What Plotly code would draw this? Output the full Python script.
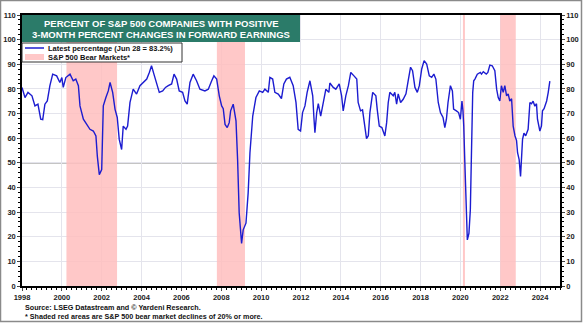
import plotly.graph_objects as go

# ---------------- data ----------------
dates = [
    1998.0, 1998.15, 1998.3, 1998.5, 1998.65, 1998.8, 1998.94, 1999.04, 1999.15, 1999.27,
    1999.4, 1999.54, 1999.74, 1999.9, 2000.0, 2000.07, 2000.2, 2000.41, 2000.57, 2000.7,
    2000.83, 2000.91, 2001.08, 2001.25, 2001.41, 2001.58, 2001.71, 2001.78, 2001.88, 2002.0,
    2002.08, 2002.21, 2002.33, 2002.42, 2002.55, 2002.67, 2002.78, 2002.88, 2003.0, 2003.08,
    2003.22, 2003.3, 2003.42, 2003.58, 2003.75, 2003.92, 2004.08, 2004.26, 2004.39, 2004.5,
    2004.62, 2004.76, 2004.89, 2005.06, 2005.2, 2005.34, 2005.51, 2005.63, 2005.76, 2005.89,
    2006.06, 2006.18, 2006.29, 2006.43, 2006.59, 2006.76, 2006.93, 2007.18, 2007.35, 2007.52,
    2007.63, 2007.77, 2007.9, 2008.02, 2008.1, 2008.19, 2008.3, 2008.4, 2008.47, 2008.6,
    2008.74, 2008.82, 2008.9, 2009.02, 2009.1, 2009.24, 2009.35, 2009.44, 2009.58, 2009.74,
    2009.91, 2010.08, 2010.19, 2010.36, 2010.44, 2010.58, 2010.69, 2010.86, 2011.02, 2011.14,
    2011.27, 2011.44, 2011.61, 2011.75, 2011.86, 2011.98, 2012.08, 2012.2, 2012.31, 2012.45,
    2012.59, 2012.65, 2012.7, 2012.79, 2012.87, 2012.99, 2013.12, 2013.25, 2013.4, 2013.45,
    2013.62, 2013.75, 2013.92, 2014.04, 2014.12, 2014.25, 2014.38, 2014.5, 2014.66, 2014.8,
    2014.87, 2014.99, 2015.09, 2015.21, 2015.29, 2015.38, 2015.46, 2015.6, 2015.76, 2015.83,
    2015.93, 2016.06, 2016.21, 2016.3, 2016.38, 2016.46, 2016.63, 2016.71, 2016.8, 2016.88,
    2017.0, 2017.13, 2017.27, 2017.38, 2017.5, 2017.6, 2017.72, 2017.84, 2017.94, 2018.06,
    2018.18, 2018.31, 2018.44, 2018.56, 2018.67, 2018.77, 2018.89, 2019.0, 2019.13, 2019.22,
    2019.3, 2019.38, 2019.5, 2019.6, 2019.66, 2019.8, 2019.91, 2020.0, 2020.08, 2020.13,
    2020.17, 2020.22, 2020.28, 2020.35, 2020.43, 2020.5, 2020.55, 2020.62, 2020.67, 2020.73,
    2020.85, 2021.0, 2021.06, 2021.15, 2021.3, 2021.38, 2021.48, 2021.6, 2021.73, 2021.82,
    2021.9, 2021.98, 2022.06, 2022.15, 2022.23, 2022.32, 2022.4, 2022.48, 2022.57, 2022.65,
    2022.74, 2022.82, 2022.87, 2022.95, 2023.02, 2023.07, 2023.12, 2023.19, 2023.28, 2023.4,
    2023.49, 2023.57, 2023.65, 2023.74, 2023.82, 2023.87, 2023.99, 2024.07, 2024.12, 2024.2,
    2024.33, 2024.41, 2024.49,
]
pct_positive = [
    80.6, 76.5, 78.6, 77.2, 73.1, 73.8, 67.7, 67.5, 73.8, 75.1,
    81.3, 86.0, 85.3, 82.6, 84.6, 80.6, 84.6, 86.0, 83.3, 84.0,
    81.3, 73.1, 67.7, 65.6, 63.6, 62.9, 60.9, 52.7, 45.2, 47.3,
    73.1, 76.5, 79.2, 82.6, 78.6, 71.7, 68.4, 59.5, 55.4, 64.9,
    63.6, 64.9, 74.5, 79.9, 77.9, 81.3, 82.6, 84.0, 86.7, 89.4,
    86.0, 82.6, 78.6, 79.2, 80.6, 81.3, 82.0, 86.0, 84.0, 79.2,
    78.6, 75.1, 73.8, 82.6, 86.0, 83.3, 79.9, 79.2, 79.9, 83.3,
    85.3, 84.0, 77.2, 73.1, 72.0, 65.6, 64.3, 66.3, 71.1, 73.8,
    67.0, 51.3, 29.6, 17.3, 22.8, 25.5, 37.8, 54.1, 69.0, 76.5,
    79.2, 78.6, 79.9, 78.6, 84.7, 84.0, 78.6, 77.9, 76.1, 82.0,
    84.0, 84.7, 81.3, 74.5, 63.6, 62.9, 70.4, 73.1, 78.6, 83.3,
    77.2, 68.4, 62.2, 70.4, 74.0, 69.0, 75.1, 79.9, 78.6, 82.4,
    80.6, 79.9, 82.0, 77.2, 71.1, 77.2, 81.3, 86.7, 85.3, 84.0,
    74.5, 71.1, 71.5, 64.9, 59.8, 61.0, 70.4, 78.6, 77.2, 71.5,
    64.9, 64.3, 60.9, 66.3, 74.5, 78.6, 77.2, 78.6, 73.8, 78.0,
    74.5, 75.8, 78.0, 83.3, 88.8, 87.4, 80.6, 78.6, 81.3, 88.1,
    91.5, 90.1, 85.3, 84.7, 86.0, 84.0, 74.5, 70.4, 68.4, 64.3,
    67.7, 74.5, 81.3, 79.2, 71.8, 71.1, 70.4, 67.7, 75.1, 71.1,
    64.9, 51.3, 30.9, 18.7, 21.4, 30.9, 51.3, 78.6, 83.3, 84.0,
    86.0, 86.7, 86.0, 87.0, 86.0, 86.7, 89.7, 89.4, 87.4, 79.9,
    76.5, 75.1, 81.3, 78.6, 81.3, 77.2, 78.0, 75.1, 76.0, 64.9,
    61.0, 59.0, 54.1, 51.3, 44.5, 51.3, 59.5, 62.0, 61.0, 63.6,
    74.5, 74.0, 75.0, 73.0, 74.0, 67.7, 62.9, 65.0, 71.1, 72.0,
    75.1, 78.6, 83.2,
]
assert len(dates) == len(pct_positive)

bear_start = [2000.23, 2007.78, 2020.13, 2022.0]
bear_end = [2002.77, 2009.19, 2020.23, 2022.78]

x_ticks = list(range(1998, 2025, 2))
y_ticks = list(range(0, 111, 10))

title_lines = ["PERCENT OF S&P 500 COMPANIES WITH POSITIVE",
               "3-MONTH PERCENT CHANGES IN FORWARD EARNINGS"]
legend_line = "Latest percentage (Jun 28 = 83.2%)"
legend_bear = "S&P 500 Bear Markets*"
footnotes = ["Source: LSEG Datastream and © Yardeni Research.",
             "* Shaded red areas are S&P 500 bear market declines of 20% or more."]

# ---------------- layout helpers ----------------
W, H = 583, 323
L, R, T, B = 22, 23, 15, 37
PW, PH = W - L - R, H - T - B


def px(x):
    return (x - L) / PW


def py(y):
    return (H - B - y) / PH


FONT = "Liberation Sans, Arial, sans-serif"
BLUE = "#1c1cd0"
PINK = "rgba(255,190,190,0.85)"
TEAL = "#2b7b69"

fig = go.Figure()
fig.add_trace(go.Scatter(x=dates, y=pct_positive, mode="lines",
                         line=dict(color=BLUE, width=1.4), showlegend=False,
                         hoverinfo="skip"))
# invisible trace to activate right axis
fig.add_trace(go.Scatter(x=[dates[0]], y=[pct_positive[0]], yaxis="y2",
                         mode="lines", line=dict(width=0), showlegend=False,
                         hoverinfo="skip"))

shapes = []
for s, e in zip(bear_start, bear_end):
    shapes.append(dict(type="rect", xref="x", yref="y", x0=s, x1=e, y0=0, y1=110,
                       fillcolor=PINK, line=dict(width=0), layer="between"))
shapes.append(dict(type="line", xref="paper", yref="y", x0=0, x1=1, y0=50, y1=50,
                   line=dict(color="#444444", width=1), layer="between"))
# title box
shapes.append(dict(type="rect", xref="paper", yref="paper", x0=px(22), x1=px(300),
                   y0=py(42), y1=py(15), fillcolor=TEAL, line=dict(width=0)))
# legend box
shapes.append(dict(type="rect", xref="paper", yref="paper", x0=px(22), x1=px(182),
                   y0=py(62), y1=py(43), fillcolor="white",
                   line=dict(color="#333333", width=1)))
shapes.append(dict(type="line", xref="paper", yref="paper", x0=px(25), x1=px(44),
                   y0=py(48), y1=py(48), line=dict(color=BLUE, width=1.5)))
shapes.append(dict(type="rect", xref="paper", yref="paper", x0=px(25), x1=px(44),
                   y0=py(60), y1=py(54), fillcolor=PINK, line=dict(width=0)))
# outer frame
shapes.append(dict(type="rect", xref="paper", yref="paper", x0=px(0.5), x1=px(581.5),
                   y0=py(321.5), y1=py(0.5), line=dict(color="#8a8a8a", width=1.5)))

annotations = []
for i, t in enumerate(title_lines):
    annotations.append(dict(text=t, xref="paper", yref="paper", x=px(161),
                            y=py(23 + i * 11.5), xanchor="center", yanchor="middle",
                            showarrow=False,
                            font=dict(family=FONT, size=9.5, color="white", weight="bold")))
annotations.append(dict(text=legend_line, xref="paper", yref="paper", x=px(46), y=py(48),
                        xanchor="left", yanchor="middle", showarrow=False,
                        font=dict(family=FONT, size=7.5, color="#111111", weight="bold")))
annotations.append(dict(text=legend_bear, xref="paper", yref="paper", x=px(46), y=py(57),
                        xanchor="left", yanchor="middle", showarrow=False,
                        font=dict(family=FONT, size=7.5, color="#111111", weight="bold")))
for i, t in enumerate(footnotes):
    annotations.append(dict(text=t, xref="paper", yref="paper", x=px(23), y=py(307 + i * 9.5),
                            xanchor="left", yanchor="middle", showarrow=False,
                            font=dict(family=FONT, size=7.2, color="#111111", weight="bold")))

tickfont = dict(family=FONT, size=7.5, color="#222222", weight="bold")
yaxis_common = dict(range=[0, 110], tickvals=y_ticks, ticks="outside", ticklen=3,
                    tickfont=tickfont, showline=True, linecolor="black", linewidth=1.5,
                    zeroline=False, fixedrange=True,
                    minor=dict(dtick=2, ticks="outside", ticklen=2, tickcolor="black",
                               showgrid=False))

fig.update_layout(
    width=W, height=H,
    margin=dict(l=L, r=R, t=T, b=B, autoexpand=False),
    paper_bgcolor="white", plot_bgcolor="white",
    showlegend=False,
    xaxis=dict(range=[1998, 2025], tickvals=x_ticks, ticktext=[str(v) for v in x_ticks],
               ticks="outside", ticklen=3, tickfont=tickfont, showline=True,
               linecolor="black", linewidth=1.5, mirror=True, showgrid=True,
               gridcolor="#e4e4ec", gridwidth=1, zeroline=False,
               minor=dict(dtick=0.25, ticks="outside", ticklen=2, tickcolor="black",
                          showgrid=False)),
    yaxis=dict(**yaxis_common, showgrid=True, gridcolor="#e4e4ec", gridwidth=1, side="left"),
    yaxis2=dict(**yaxis_common, showgrid=False, overlaying="y", side="right"),
    shapes=shapes,
    annotations=annotations,
)

fig.write_html("out.html")
